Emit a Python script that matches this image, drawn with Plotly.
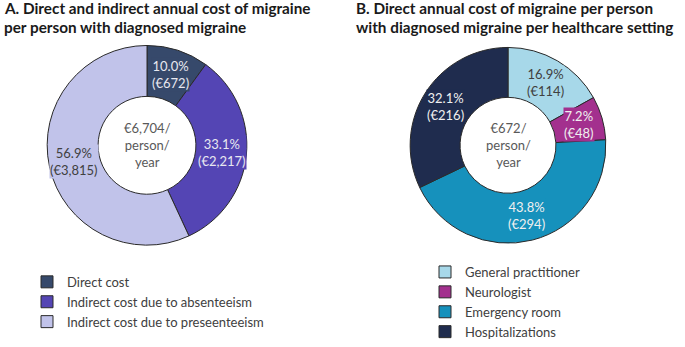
import math
import plotly.graph_objects as go

W, H = 685, 347

# ---- data ----
labels_a = ["Direct cost", "Indirect cost due to absenteeism", "Indirect cost due to preseenteeism"]
pct_a = [10.0, 33.1, 56.9]
eur_a = ["672", "2,217", "3,815"]
total_a = "€6,704/<br>person/<br>year"
title_a = ["A. Direct and indirect annual cost of migraine", "per person with diagnosed migraine"]

labels_b = ["General practitioner", "Neurologist", "Emergency room", "Hospitalizations"]
pct_b = [16.9, 7.2, 43.8, 32.1]
eur_b = ["114", "48", "294", "216"]
total_b = "€672/<br>person/<br>year"
title_b = ["B. Direct annual cost of migraine per person", "with diagnosed migraine per healthcare setting"]

# ---- styles ----
colors_a = ["#36496b", "#5445b4", "#c1c3ea"]
textcol_a = ["#e8e8f0", "#e8e8f0", "#404040"]
colors_b = ["#a7d8e9", "#a3308e", "#1691bc", "#1f2c4e"]
textcol_b = ["#404040", "#f0f0f0", "#f0f0f0", "#f0f0f0"]
FONT = "Lato, 'Open Sans', sans-serif"
HOLE = 0.49

# pie geometry in pixels (center x, center y from top, radius)
geo_a = (147, 147, 101)
geo_b = (508, 147, 99)


def domain(geo):
    cx, cy, r = geo
    return dict(x=[(cx - r) / W, (cx + r) / W], y=[(H - cy - r) / H, (H - cy + r) / H])


fig = go.Figure()
fig.add_trace(go.Pie(
    labels=labels_a, values=pct_a, hole=HOLE, sort=False, direction="clockwise",
    marker=dict(colors=colors_a, line=dict(color="#2a2a2a", width=1)),
    textinfo="none", hoverinfo="label+percent", domain=domain(geo_a), legend="legend",
))
fig.add_trace(go.Pie(
    labels=labels_b, values=pct_b, hole=HOLE, sort=False, direction="clockwise",
    marker=dict(colors=colors_b, line=dict(color="#2a2a2a", width=1)),
    textinfo="none", hoverinfo="label+percent", domain=domain(geo_b), legend="legend2",
))

annotations = []


def slice_labels(geo, pct, eur, colors, tcols):
    cx, cy, r = geo
    rm = r * (1 + HOLE) / 2
    tot = sum(pct)
    cum = 0.0
    for p, e, c, tc in zip(pct, eur, colors, tcols):
        mid = (cum + p / 2) / tot * 2 * math.pi
        cum += p
        px = cx + rm * math.sin(mid)
        py = cy - rm * math.cos(mid)
        annotations.append(dict(
            x=px / W, y=(H - py) / H, xref="paper", yref="paper",
            text=f"{p:.1f}%<br>(€{e})", showarrow=False, bgcolor=c, borderpad=0,
            font=dict(family=FONT, size=13, color=tc), align="center",
            xanchor="center", yanchor="middle",
        ))


slice_labels(geo_a, pct_a, eur_a, colors_a, textcol_a)
slice_labels(geo_b, pct_b, eur_b, colors_b, textcol_b)

for geo, txt in ((geo_a, total_a), (geo_b, total_b)):
    cx, cy, r = geo
    annotations.append(dict(
        x=cx / W, y=(H - cy) / H, xref="paper", yref="paper", text=txt, showarrow=False,
        font=dict(family=FONT, size=13, color="#595959"), align="center",
        xanchor="center", yanchor="middle",
    ))

for x0, lines in ((2, title_a), (354, title_b)):
    for i, line in enumerate(lines):
        yc = 8 + 19 * i
        annotations.append(dict(x=x0 / W, y=(H - yc) / H, xref="paper", yref="paper",
                                text=f"<b>{line}</b>", showarrow=False,
                                xanchor="left", yanchor="middle", align="left",
                                font=dict(family=FONT, size=15.3, color="#1a1a1a")))

legend_font = dict(family=FONT, size=13, color="#404040")
fig.update_layout(
    width=W, height=H, margin=dict(l=0, r=0, t=0, b=0),
    paper_bgcolor="white", plot_bgcolor="white",
    annotations=annotations,
    showlegend=True,
    legend=dict(x=27 / W, y=(H - 270) / H, xanchor="left", yanchor="top", font=legend_font,
                bgcolor="rgba(0,0,0,0)", tracegroupgap=0, itemclick=False),
    legend2=dict(x=425 / W, y=(H - 260) / H, xanchor="left", yanchor="top", font=legend_font,
                 bgcolor="rgba(0,0,0,0)", tracegroupgap=0, itemclick=False),
)

fig.write_html("out.html", config={"displayModeBar": False},
               post_script="document.body.style.margin='0';")
